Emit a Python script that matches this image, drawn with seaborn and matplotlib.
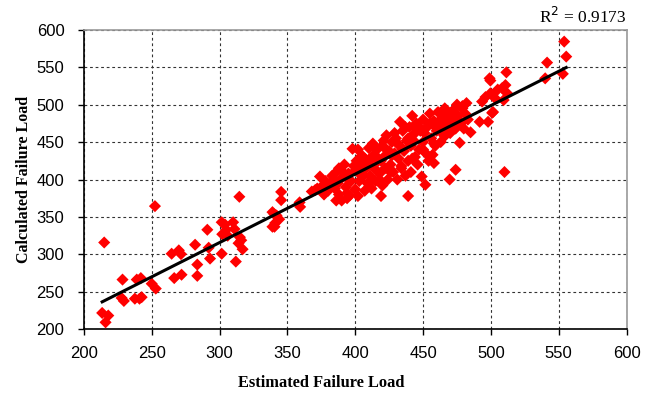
import matplotlib
matplotlib.use("Agg")
import matplotlib.pyplot as plt
import seaborn as sns
import pandas as pd

# Estimated failure load (x) and calculated failure load (y)
est_low = [215, 213.5, 218, 216, 228.5, 227.8, 229.5, 239, 242, 237.6, 241, 242.6,
           252.4, 250, 253, 264.7, 270, 271.6, 266.6, 272, 282, 283.6, 283.6, 291,
           292, 293, 301.6, 304, 305, 302, 306, 301.6, 310, 311, 312, 315, 316, 314,
           317, 314.6, 340.5, 340.5, 345.4, 345.4, 339, 342, 344, 341, 339, 359, 359.4]
calc_low = [316, 222, 218.5, 209.5, 266.5, 242, 238, 266.5, 268.5, 241, 241, 243,
            364.5, 261, 254.5, 301, 305.5, 300.5, 268.5, 273, 313, 286.5, 271.5, 333,
            309, 294.5, 343, 340, 333, 327, 325, 301, 343, 334, 290.5, 323, 319, 315,
            307, 377, 353.5, 337, 383.5, 372.5, 356.5, 352, 347, 342, 337, 369.5, 363.5]

est_mid = [368, 372, 374, 376, 378, 380, 370.5, 377,
           382, 384, 385, 386, 388, 388, 390, 390, 392, 393, 394, 395, 396, 397, 398,
           400, 400, 401, 402, 403, 404, 405, 406, 407, 408, 409, 410, 410,
           411, 412, 413, 414, 415, 416, 417, 418, 419, 420, 420, 421, 422, 423, 424, 425,
           426, 427, 428, 429, 430, 431, 432, 433, 433, 434, 435, 436, 437, 438, 439, 439, 440,
           441, 441, 442, 443, 444, 445, 446, 447, 448, 449, 450, 450, 451.7, 452, 453, 454, 455,
           456, 457, 458, 458, 459, 460, 461, 462, 463, 464, 465, 466, 467, 468, 469.6, 470,
           471, 472, 473, 474, 475, 476, 477, 478, 479, 480, 481, 482, 483, 485,
           379, 383, 387, 391, 395, 399, 403, 407, 411, 415, 419, 423, 427, 431, 435,
           439, 443, 447, 451, 455, 459, 463, 467, 471, 475, 479, 386, 394, 402, 410,
           418, 426, 434, 442, 450, 458, 466, 474, 405, 413, 421, 429, 437, 445]
calc_mid = [384, 388, 404, 392, 398, 385, 386, 380,
            395, 400, 388, 410, 380, 415, 402, 372, 420, 390, 375, 408, 379, 398, 441,
            387, 412, 425, 440, 398, 420, 430, 405, 385, 415, 395, 442, 425,
            405, 388, 432, 415, 398, 440, 425, 408, 378, 392, 445, 430, 415, 459, 400, 438,
            420, 450, 410, 435, 455, 400, 428, 477, 445, 415, 465, 438, 405, 452, 378, 425, 470,
            445, 410, 485, 460, 430, 475, 420, 440, 465, 404, 480, 450, 393, 435, 470, 425, 488,
            455, 433, 422, 478, 445, 465, 490, 472, 450, 482, 460, 495, 470, 485, 400, 462,
            478, 492, 468, 413, 500, 485, 449, 475, 495, 468, 488, 502, 480, 463,
            392, 405, 395, 410, 400, 418, 408, 428, 420, 432, 425, 440, 432, 448, 440,
            455, 452, 470, 462, 475, 470, 488, 478, 490, 482, 498, 372, 382, 378, 395,
            400, 410, 418, 428, 440, 448, 458, 468, 432, 448, 452, 462, 470, 468]

est_high = [491.7, 497.9, 500.9, 493.5, 496, 499.6, 503.3, 501.6, 508.3, 509.4, 512,
            510.7, 499, 511.4, 510, 541.4, 540, 553, 554, 555.5, 499.6, 505]
calc_high = [477, 477, 489, 504, 510, 515, 508, 490, 522, 506, 515,
             526, 535, 543, 410, 556, 535, 541, 584, 564, 532, 520]

r2_text = r"R$^2$ = 0.9173"
x_ticks = [200, 250, 300, 350, 400, 450, 500, 550, 600]
y_ticks = [200, 250, 300, 350, 400, 450, 500, 550, 600]

df = pd.DataFrame({
    "Estimated Failure Load": est_low + est_mid + est_high,
    "Calculated Failure Load": calc_low + calc_mid + calc_high,
})

plt.rcParams["font.family"] = ["Liberation Sans", "DejaVu Sans"]

fig = plt.figure(figsize=(6.5, 3.95), dpi=100)
ax = fig.add_axes([0.129, 0.166, 0.835, 0.759])

sns.regplot(data=df, x="Estimated Failure Load", y="Calculated Failure Load",
            ax=ax, ci=None, marker="D",
            scatter_kws=dict(s=38, color="#ff0000", edgecolors="none", alpha=1, zorder=3),
            line_kws=dict(color="black", lw=2.2, zorder=4))

ax.set_xlim(200, 600)
ax.set_ylim(200, 600)
ax.set_xticks(x_ticks)
ax.set_yticks(y_ticks)
ax.tick_params(axis="both", labelsize=12, length=4, width=1, direction="out", colors="black")
ax.tick_params(axis="x", pad=8)
ax.tick_params(axis="y", pad=10)
ax.grid(True, color="#333333", linestyle=(0, (2.5, 2.5)), lw=0.8)
ax.set_axisbelow(True)

for s in ["left", "bottom"]:
    ax.spines[s].set_color("black")
    ax.spines[s].set_linewidth(1.2)
for s in ["top", "right"]:
    ax.spines[s].set_color("#999999")
    ax.spines[s].set_linewidth(1.2)

ax.set_xlabel("")
ax.set_ylabel("Calculated Failure Load", fontfamily="Liberation Serif",
              fontweight="bold", fontsize=11.5, labelpad=3)
fig.text(0.494, 0.03, "Estimated Failure Load", ha="center", va="center",
         fontfamily="Liberation Serif", fontweight="bold", fontsize=11.8)

ax.text(1.0, 1.01, r2_text, transform=ax.transAxes, ha="right", va="bottom",
        fontfamily="Liberation Serif", fontsize=12.5)

fig.savefig("out.png", dpi=100)
